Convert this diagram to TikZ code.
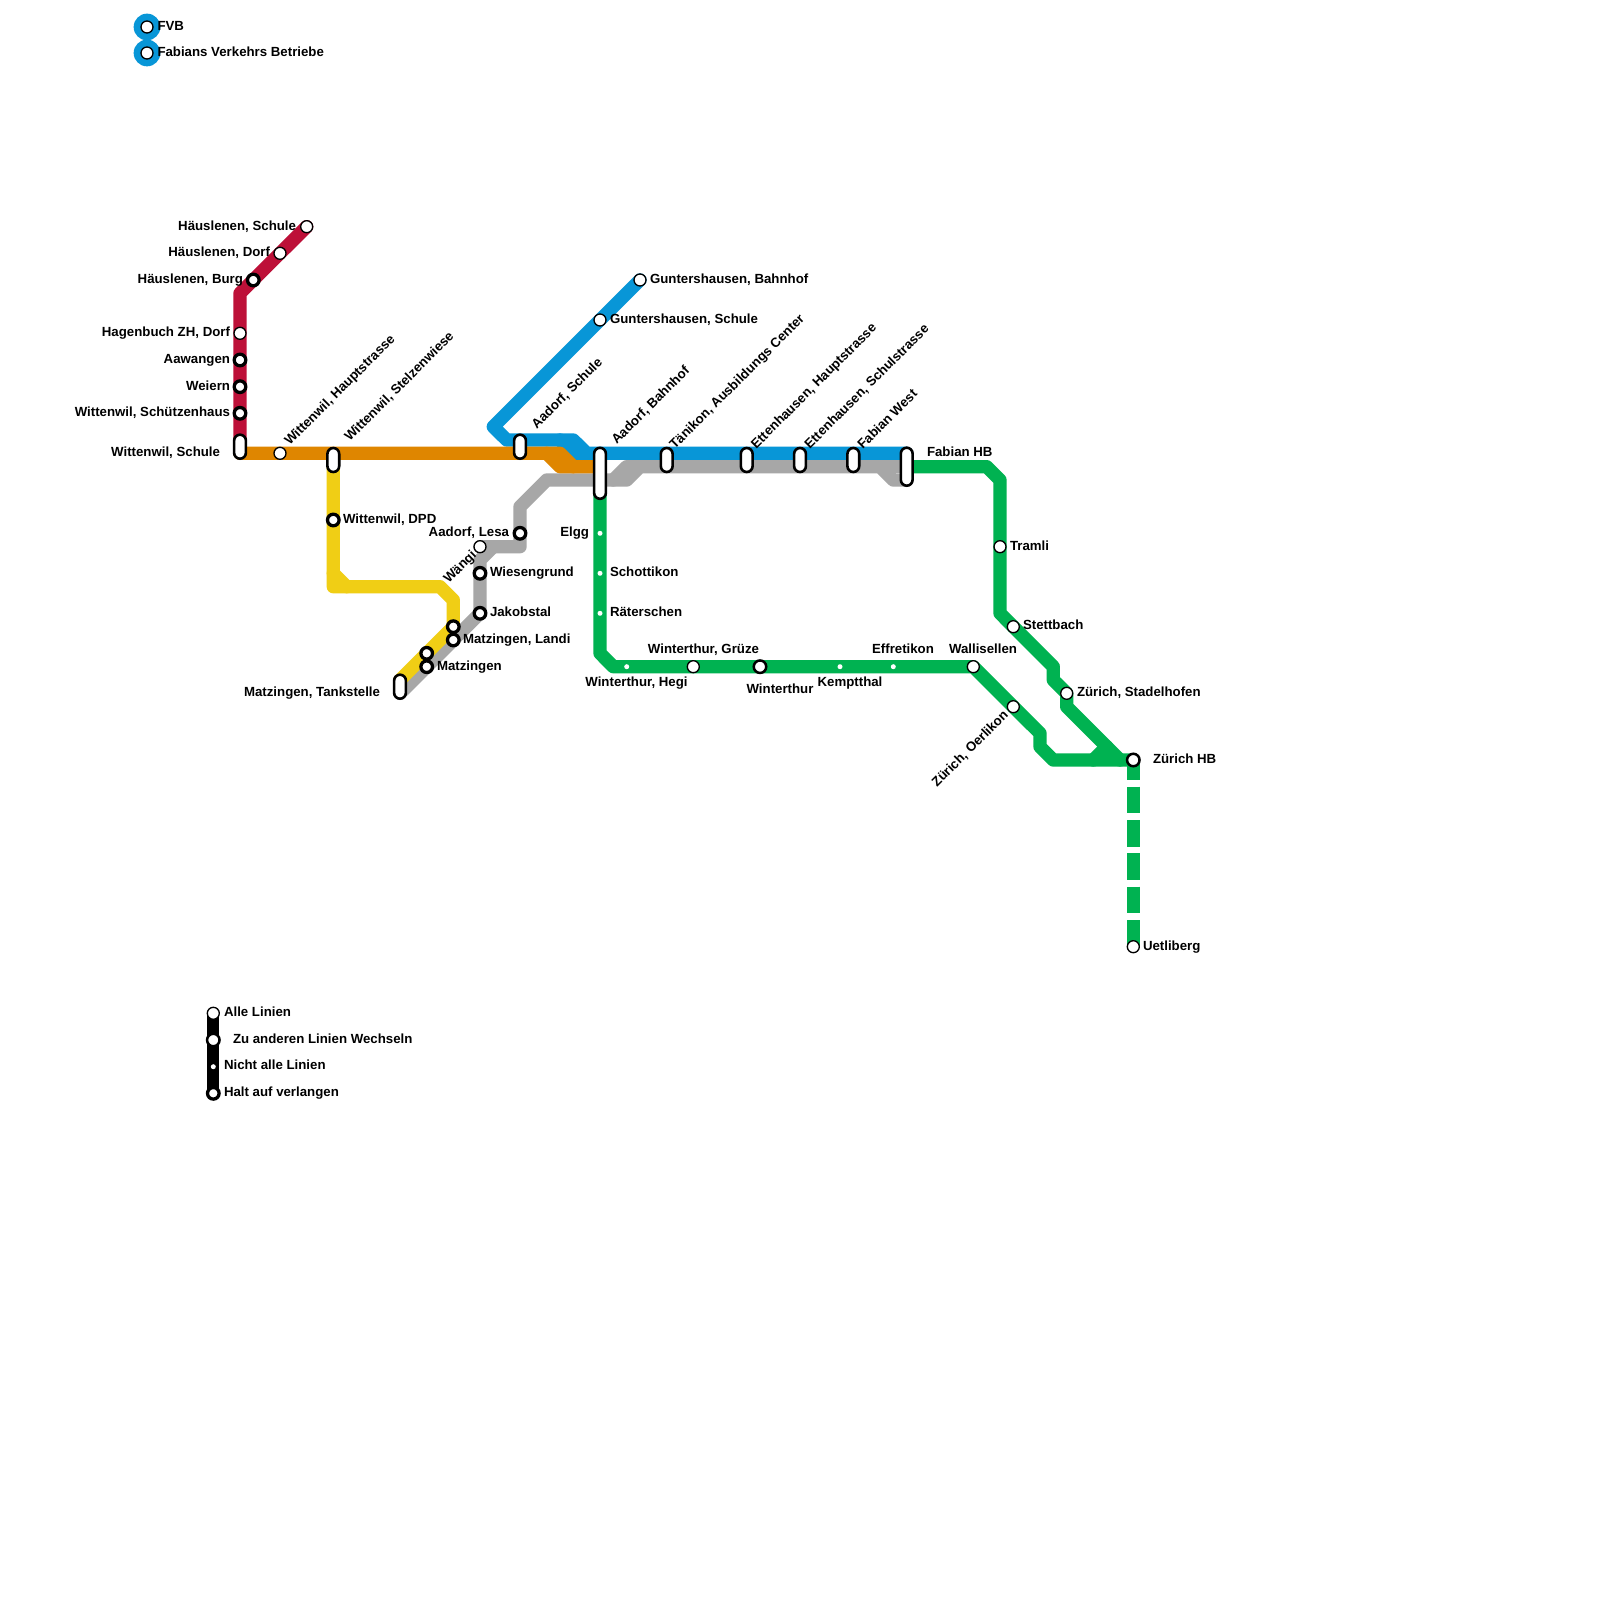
\documentclass[tikz,border=0pt]{standalone}
\usepackage{fontspec}
\setmainfont{Liberation Sans}
\pgfdeclarelayer{lines}
\pgfsetlayers{lines,main}
\definecolor{cred}{HTML}{BD1038}
\definecolor{corange}{HTML}{DF8600}
\definecolor{cblue}{HTML}{0896D7}
\definecolor{cgray}{HTML}{A7A7A7}
\definecolor{cyellow}{HTML}{F0CE15}
\definecolor{cgreen}{HTML}{00B251}
\tikzset{
  x=1pt,y=-1pt,
  every node/.style={font=\fontsize{13.25}{13.25}\selectfont\bfseries,inner sep=0pt,outer sep=0pt},
  open/.style={circle,draw=black,fill=white,line width=1.33pt,minimum size=12pt},
  thick stop/.style={circle,draw=black,fill=white,line width=3.3pt,minimum size=11.6pt},
  ring stop/.style={circle,draw=black,fill=white,line width=2.5pt,minimum size=12.5pt},
  mini/.style={circle,fill=white,minimum size=5pt},
  capsule/.style={rectangle,draw=black,fill=white,line width=2.6pt,rounded corners=5.9pt,minimum width=11.8pt,minimum height=#1},
  metro/.style={line width=13.33pt,line join=round,line cap=round},
  lab/.style={anchor=mid west,yshift=-2pt},
  labl/.style={anchor=mid east,yshift=-2pt},
  labc/.style={anchor=mid,yshift=-2pt},
  labr/.style={anchor=mid west,xshift=3pt,yshift=-3pt,rotate=45},
  labrl/.style={anchor=mid east,xshift=0pt,yshift=-1pt,rotate=45},
}
\begin{document}
\begin{tikzpicture}
\useasboundingbox (0,0) rectangle (1600,1600);

% key
\node[circle,fill=cblue,minimum size=26.7pt] (keyA) at (147,27) {};
\node[circle,fill=cblue,minimum size=26.7pt] (keyB) at (147,53) {};
\node[open] (keyAi) at (147,27) {};
\node[open] (keyBi) at (147,53) {};
\node[lab] (tFVB) at (157.5,25.5) {FVB};
\node[lab] (tFab) at (157.5,52) {Fabians Verkehrs Betriebe};

% red line
\node[open] (hSchule) at (306.7,226.7) {};
\node[open] (hDorf) at (280,253.3) {};
\node[thick stop] (hBurg) at (253.3,280) {};
\coordinate (r1) at (240,293.3);
\node[open] (hagen) at (240,333.3) {};
\node[thick stop] (aaw) at (240,360) {};
\node[thick stop] (wei) at (240,386.7) {};
\node[thick stop] (sch) at (240,413.3) {};
\node[capsule=24pt] (wSchule) at (240,446.7) {};
\coordinate (wS1) at (240,440);
\coordinate (wS2) at (240,453.3);
\node[labl] at (296,225.5) {Häuslenen, Schule};
\node[labl] at (270,252) {Häuslenen, Dorf};
\node[labl] at (243,279) {Häuslenen, Burg};
\node[labl] at (230,332) {Hagenbuch ZH, Dorf};
\node[labl] at (230,359) {Aawangen};
\node[labl] at (230,385.5) {Weiern};
\node[labl] at (230,412) {Wittenwil, Schützenhaus};
\node[labl] at (220,452) {Wittenwil, Schule};

% orange / yellow
\node[open] (wHaupt) at (280,453.3) {};
\node[capsule=24pt] (wStelz) at (333.3,460) {};
\coordinate (wSt1) at (333.3,453.3);
\coordinate (wSt2) at (333.3,466.7);
\node[labr] at (285,441) {Wittenwil, Hauptstrasse};
\node[labr] at (345,437) {Wittenwil, Stelzenwiese};
\node[thick stop] (wDPD) at (333.3,520) {};
\node[lab] at (343,519) {Wittenwil, DPD};
\coordinate (y1) at (333.3,573.3);
\coordinate (y0) at (333.3,586.7);
\coordinate (y2) at (346.7,586.7);
\coordinate (y3) at (440,586.7);
\coordinate (y4) at (453.3,600);
\node[thick stop] (mLandiY) at (453.3,626.7) {};
\node[thick stop] (mLandi) at (453.3,640) {};
\node[thick stop] (mZgY) at (426.7,653.3) {};
\node[thick stop] (mZg) at (426.7,666.7) {};
\node[capsule=24pt] (mTank) at (400,686.7) {};
\coordinate (mT1) at (400,680);
\coordinate (mT2) at (400,693.3);
\node[lab] at (463,639) {Matzingen, Landi};
\node[lab] at (437,665.5) {Matzingen};
\node[labl] at (380,692) {Matzingen, Tankstelle};

% gray
\node[thick stop] (jak) at (480,613.3) {};
\node[thick stop] (wies) at (480,573.3) {};
\node[open] (waengi) at (480,546.7) {};
\node[thick stop] (lesa) at (520,533.3) {};
\coordinate (g0) at (480,560);
\coordinate (g00) at (493.3,546.7);
\coordinate (g1) at (520,546.7);
\coordinate (g2) at (520,506.7);
\coordinate (g3) at (546.7,480);
\coordinate (g35) at (613.3,480);
\coordinate (g45) at (626.7,466.7);
\coordinate (g4) at (626.7,480);
\coordinate (g5) at (640,466.7);
\coordinate (g6) at (880,466.7);
\coordinate (g7) at (893.3,480);
\node[lab] at (490,612) {Jakobstal};
\node[lab] at (490,572) {Wiesengrund};
\node[labrl] at (475,553) {Wängi};
\node[labl] at (509,532) {Aadorf, Lesa};

% blue
\node[open] (gBahn) at (640,280) {};
\node[open] (gSchule) at (600,320) {};
\coordinate (b1) at (493.3,426.7);
\coordinate (b2) at (506.7,440);
\node[capsule=24pt] (aSchule) at (520,446.7) {};
\coordinate (aS1) at (520,440);
\coordinate (aS2) at (520,453.3);
\coordinate (b25) at (560,440);
\coordinate (b35) at (573.3,453.3);
\coordinate (b3) at (573.3,440);
\coordinate (b4) at (586.7,453.3);
\coordinate (o05) at (546.7,453.3);
\coordinate (o15) at (560,466.7);
\coordinate (o1) at (560,453.3);
\coordinate (o2) at (573.3,466.7);
\node[capsule=51pt] (aBahn) at (600,473.3) {};
\coordinate (aB1) at (600,453.3);
\coordinate (aB2) at (600,466.7);
\coordinate (aB3) at (600,480);
\node[capsule=24pt] (taen) at (666.7,460) {};
\node[capsule=24pt] (etH) at (746.7,460) {};
\node[capsule=24pt] (etS) at (800,460) {};
\node[capsule=24pt] (fWest) at (853.3,460) {};
\node[capsule=38pt] (fHB) at (906.7,466.7) {};
\coordinate (fH1) at (906.7,453.3);
\coordinate (fH2) at (906.7,480);
\node[lab] at (650,279) {Guntershausen, Bahnhof};
\node[lab] at (610,319) {Guntershausen, Schule};
\node[labr] at (532,424.5) {Aadorf, Schule};
\node[labr] at (612,440) {Aadorf, Bahnhof};
\node[labr] at (670,445) {Tänikon, Ausbildungs Center};
\node[labr] at (751.5,444.5) {Ettenhausen, Hauptstrasse};
\node[labr] at (805,444.5) {Ettenhausen, Schulstrasse};
\node[labr] at (858,445) {Fabian West};
\node[lab] at (927,452) {Fabian HB};

% green
\node[mini] (elgg) at (600,533.3) {};
\node[mini] (scho) at (600,573.3) {};
\node[mini] (raet) at (600,613.3) {};
\coordinate (n1) at (600,653.3);
\coordinate (n2) at (613.3,666.7);
\node[mini] (hegi) at (626.7,666.7) {};
\node[open] (gruez) at (693.3,666.7) {};
\node[ring stop] (wint) at (760,666.7) {};
\node[mini] (kemp) at (840,666.7) {};
\node[mini] (effr) at (893.3,666.7) {};
\node[open] (wall) at (973.3,666.7) {};
\node[open] (oerl) at (1013.3,706.7) {};
\coordinate (n3) at (1040,733.3);
\coordinate (n4) at (1040,746.7);
\coordinate (n5) at (1053.3,760);
\coordinate (n6) at (1093.3,760);
\coordinate (n7) at (1106.7,746.7);
\coordinate (n8) at (1120,760);
\node[ring stop] (zhb) at (1133.3,760) {};
\coordinate (m1) at (986.7,466.7);
\coordinate (m2) at (1000,480);
\node[open] (tram) at (1000,546.7) {};
\coordinate (m3) at (1000,613.3);
\node[open] (stet) at (1013.3,626.7) {};
\coordinate (m4) at (1053.3,666.7);
\coordinate (m5) at (1053.3,680);
\node[open] (stad) at (1066.7,693.3) {};
\coordinate (m6) at (1066.7,706.7);
\node[open] (uetl) at (1133.3,946.7) {};
\node[labl] at (589,532) {Elgg};
\node[lab] at (610,572) {Schottikon};
\node[lab] at (610,612) {Räterschen};
\node[labc] at (636.5,682) {Winterthur, Hegi};
\node[labc] at (703.5,649) {Winterthur, Grüze};
\node[labc] at (780,689) {Winterthur};
\node[labc] at (850,682) {Kemptthal};
\node[labc] at (903,649) {Effretikon};
\node[labc] at (983,649) {Wallisellen};
\node[lab] at (1010,545.5) {Tramli};
\node[lab] at (1023,625) {Stettbach};
\node[lab] at (1077,692) {Zürich, Stadelhofen};
\node[labrl] at (1007,713) {Zürich, Oerlikon};
\node[lab] at (1153,759) {Zürich HB};
\node[lab] at (1143,945.5) {Uetliberg};

% legend
\node[open] (k1) at (213.3,1013.3) {};
\node[ring stop] (k2) at (213.3,1040) {};
\node[mini] (k3) at (213.3,1066.7) {};
\node[thick stop] (k4) at (213.3,1093.3) {};
\node[lab] at (224,1012) {Alle Linien};
\node[lab] at (233,1039) {Zu anderen Linien Wechseln};
\node[lab] at (224,1065) {Nicht alle Linien};
\node[lab] at (224,1092) {Halt auf verlangen};

\begin{pgfonlayer}{lines}
\fill[white] (0,0) rectangle (1600,1600);
\draw[metro,cgray] (mT2) -- (mZg.center) -- (mLandi.center) -- (jak.center) -- (wies.center) -- (g0) -- (g00);
\draw[metro,cgray] (waengi.center) -- (g1) -- (lesa.center) -- (g2) -- (g3) -- (aB3) -- (g4) -- (g5) -- (g6) -- (g7) -- (fH2);
\draw[metro,cgray] (g35) -- (g45) -- (g5);
\draw[metro,cgray] (g6) -- (fHB.center);
\draw[metro,cyellow] (wSt2) -- (wDPD.center) -- (y0) -- (y2) -- (y3) -- (y4) -- (mLandiY.center) -- (mZgY.center) -- (mT1);
\draw[metro,cyellow] (y1) -- (y2);
\draw[metro,cred] (hSchule.center) -- (hDorf.center) -- (hBurg.center) -- (r1) -- (hagen.center) -- (aaw.center) -- (wei.center) -- (sch.center) -- (wS1);
\draw[metro,cblue] (gBahn.center) -- (gSchule.center) -- (b1) -- (b2) -- (aS1) -- (b3) -- (b4) -- (aB1) -- (fH1);
\draw[metro,cblue] (b25) -- (b35) -- (b4);
\draw[metro,corange] (wS2) -- (wHaupt.center) -- (wSt1) -- (aS2) -- (o1) -- (o2) -- (aB2);
\draw[metro,corange] (o05) -- (o15) -- (o2);
\draw[metro,cgreen] (aB3) -- (elgg.center) -- (scho.center) -- (raet.center) -- (n1) -- (n2) -- (hegi.center) -- (gruez.center) -- (wint.center) -- (kemp.center) -- (effr.center) -- (wall.center) -- (oerl.center) -- (n3) -- (n4) -- (n5) -- (n6) -- (n8) -- (zhb.center);
\draw[metro,cgreen] (n6) -- (n7);
\draw[metro,cgreen] (fHB.center) -- (m1) -- (m2) -- (tram.center) -- (m3) -- (stet.center) -- (m4) -- (m5) -- (stad.center) -- (m6) -- (n8);
\draw[line width=13.33pt,cgreen,dash pattern=on 26.67pt off 6.67pt,dash phase=6.67pt] (zhb.center) -- (uetl.center);
\draw[line width=12pt,black] (k1.center) -- (k4.center);
\end{pgfonlayer}
\end{tikzpicture}
\end{document}
